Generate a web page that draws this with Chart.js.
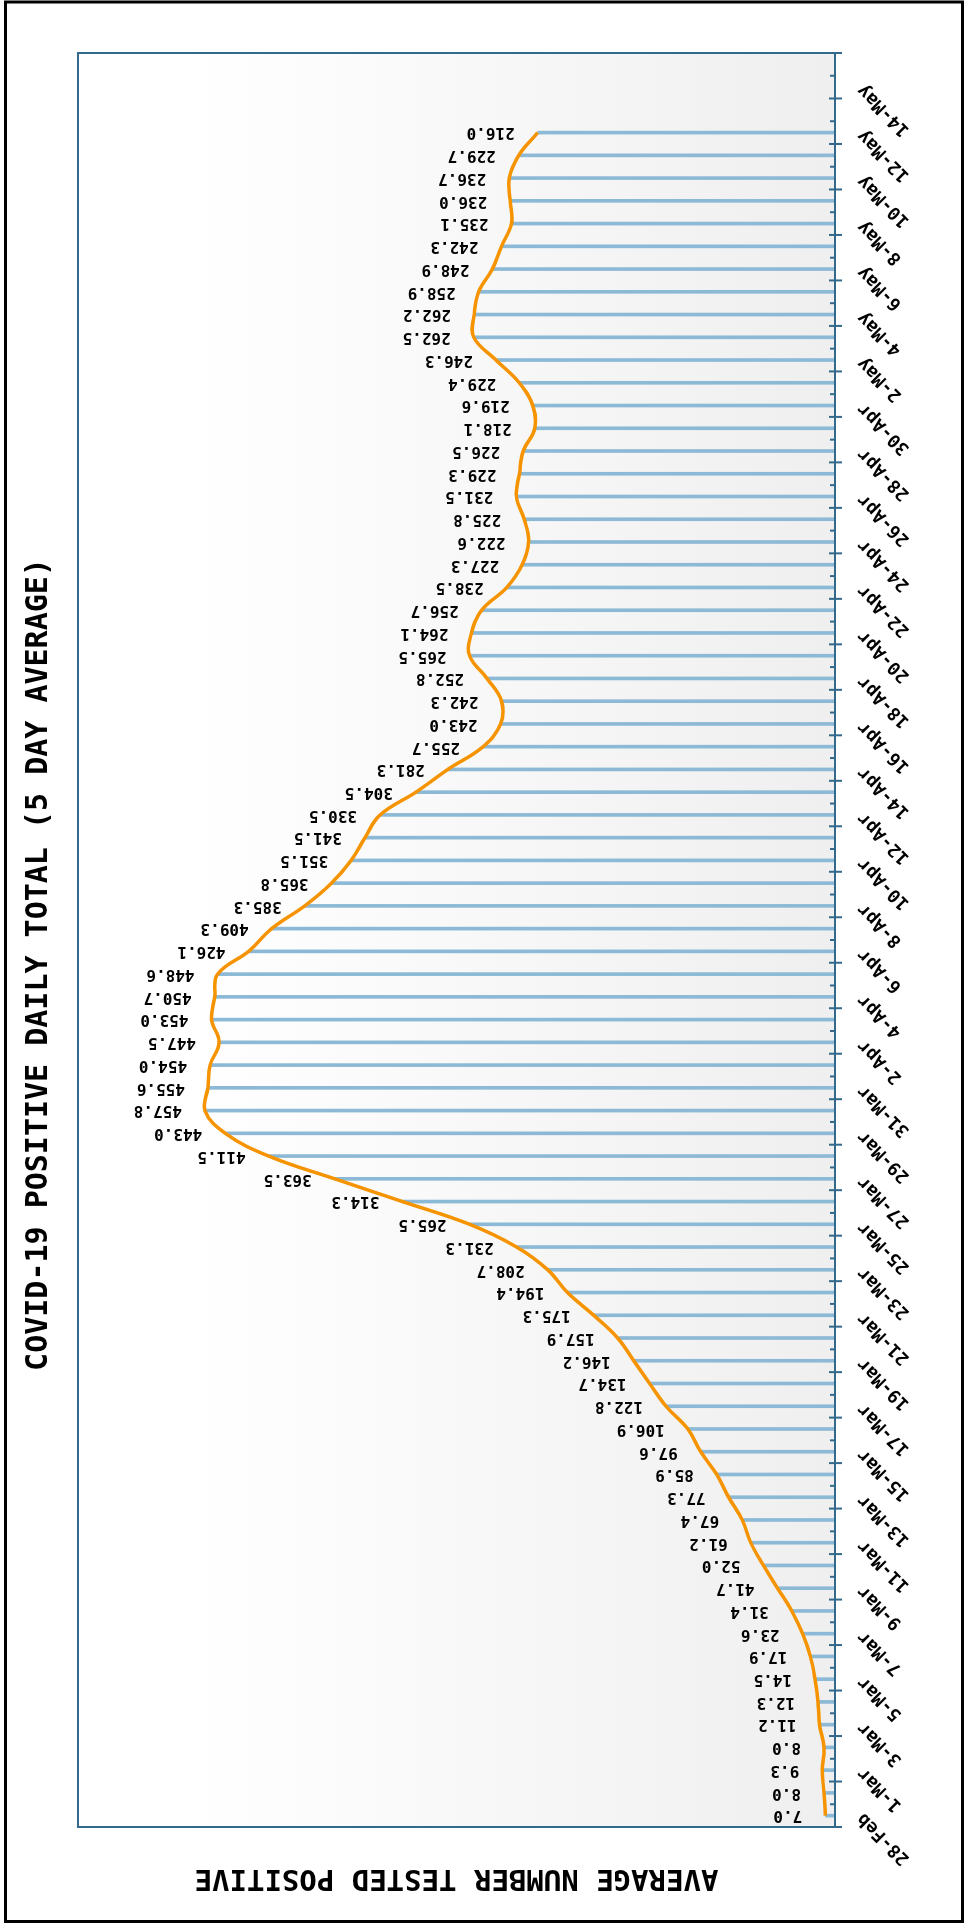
<!DOCTYPE html>
<html>
<head>
<meta charset="utf-8">
<script src="https://cdn.jsdelivr.net/npm/chart.js"></script>
<style>
  html, body { margin: 0; padding: 0; background: #fff; }
  body { width: 964px; height: 1929px; overflow: hidden; position: relative; }
  /* the chart is drawn landscape and turned a quarter turn to the left */
  #wrap { position: absolute; left: 0; top: 0; width: 1929px; height: 964px;
          transform-origin: 0 0; transform: translate(0, 1929px) rotate(-90deg); }
  #covidChart { display: block; }
</style>
</head>
<body>
<div id="wrap"><canvas id="covidChart" width="1929" height="964"></canvas></div>
<script>
var dates = [
  '28-Feb', '29-Feb',
  '1-Mar', '2-Mar', '3-Mar', '4-Mar', '5-Mar', '6-Mar', '7-Mar', '8-Mar', '9-Mar', '10-Mar',
  '11-Mar', '12-Mar', '13-Mar', '14-Mar', '15-Mar', '16-Mar', '17-Mar', '18-Mar', '19-Mar', '20-Mar',
  '21-Mar', '22-Mar', '23-Mar', '24-Mar', '25-Mar', '26-Mar', '27-Mar', '28-Mar', '29-Mar', '30-Mar', '31-Mar',
  '1-Apr', '2-Apr', '3-Apr', '4-Apr', '5-Apr', '6-Apr', '7-Apr', '8-Apr', '9-Apr', '10-Apr',
  '11-Apr', '12-Apr', '13-Apr', '14-Apr', '15-Apr', '16-Apr', '17-Apr', '18-Apr', '19-Apr', '20-Apr',
  '21-Apr', '22-Apr', '23-Apr', '24-Apr', '25-Apr', '26-Apr', '27-Apr', '28-Apr', '29-Apr', '30-Apr',
  '1-May', '2-May', '3-May', '4-May', '5-May', '6-May', '7-May', '8-May', '9-May', '10-May',
  '11-May', '12-May', '13-May', '14-May', '15-May'
];

var avgPositive = [
  7.0, 8.0, 9.3, 8.0, 11.2, 12.3, 14.5, 17.9, 23.6, 31.4,
  41.7, 52.0, 61.2, 67.4, 77.3, 85.9, 97.6, 106.9, 122.8, 134.7,
  146.2, 157.9, 175.3, 194.4, 208.7, 231.3, 265.5, 314.3, 363.5, 411.5,
  443.0, 457.8, 455.6, 454.0, 447.5, 453.0, 450.7, 448.6, 426.1, 409.3,
  385.3, 365.8, 351.5, 341.5, 330.5, 304.5, 281.3, 255.7, 243.0, 242.3,
  252.8, 265.5, 264.1, 256.7, 238.5, 227.3, 222.6, 225.8, 231.5, 229.3,
  226.5, 218.1, 219.6, 229.4, 246.3, 262.5, 262.2, 258.9, 248.9, 242.3,
  235.1, 236.0, 236.7, 229.7, 216.0, null, null, null
];

var chartTitle = 'COVID-19 POSITIVE DAILY TOTAL (5 DAY AVERAGE)';
var yAxisTitle = 'AVERAGE NUMBER TESTED POSITIVE';
var yMax = 550;

var axisColor = '#336a8c';

Chart.defaults.font.family = "'DejaVu Sans Mono', monospace";

// light gradient behind the plot
var plotBackground = {
  id: 'plotBackground',
  beforeDatasetsDraw: function (chart) {
    var a = chart.chartArea, ctx = chart.ctx;
    var g = ctx.createLinearGradient(0, a.top, 0, a.bottom);
    g.addColorStop(0, '#ffffff');
    g.addColorStop(0.15, '#ffffff');
    g.addColorStop(1, '#efefef');
    ctx.save();
    ctx.fillStyle = g;
    ctx.fillRect(a.left, a.top, a.right - a.left, a.bottom - a.top);
    ctx.restore();
  }
};

// value written above each bar, turned upright
var valueLabels = {
  id: 'valueLabels',
  afterDatasetsDraw: function (chart) {
    var ctx = chart.ctx, x = chart.scales.x, y = chart.scales.y;
    ctx.save();
    ctx.fillStyle = '#000';
    ctx.font = 'bold 16px "DejaVu Sans Mono", monospace';
    ctx.textAlign = 'left';
    ctx.textBaseline = 'middle';
    avgPositive.forEach(function (v, i) {
      if (v == null) return;
      ctx.save();
      ctx.translate(x.getPixelForValue(i), y.getPixelForValue(v) - 23);
      ctx.rotate(-Math.PI / 2);
      ctx.fillText(v.toFixed(1), 0, 0);
      ctx.restore();
    });
    ctx.restore();
  }
};

// plot frame, tick marks between days and the outer border
var frame = {
  id: 'frame',
  afterDraw: function (chart) {
    var a = chart.chartArea, ctx = chart.ctx, x = chart.scales.x;
    var n = dates.length;
    var half = (x.getPixelForValue(1) - x.getPixelForValue(0)) / 2;
    ctx.save();
    ctx.strokeStyle = axisColor;
    ctx.lineWidth = 2;
    ctx.strokeRect(a.left, a.top, a.right - a.left, a.bottom - a.top);
    ctx.beginPath();
    for (var i = 0; i <= n; i++) {
      var px = i < n ? x.getPixelForValue(i) - half : x.getPixelForValue(n - 1) + half;
      if (i % 2 === 0) {
        ctx.moveTo(px, a.bottom - 6);
        ctx.lineTo(px, a.bottom + 7);
      } else {
        ctx.moveTo(px, a.bottom - 5);
        ctx.lineTo(px, a.bottom);
      }
    }
    ctx.stroke();
    ctx.strokeStyle = '#000';
    ctx.lineWidth = 3;
    ctx.strokeRect(7.5, 5.5, 1919.5, 957);
    ctx.restore();
  }
};

var covidChart = new Chart(document.getElementById('covidChart'), {
  type: 'bar',
  data: {
    labels: dates,
    datasets: [{
      type: 'line',
      label: '5 day average',
      data: avgPositive,
      borderColor: '#f59300',
      borderWidth: 3.5,
      tension: 0.4,
      pointRadius: 0,
      fill: false,
      order: 0
    }, {
      type: 'bar',
      label: 'Average tested positive',
      data: avgPositive,
      backgroundColor: '#8cb9d5',
      barThickness: 3,
      order: 1
    }]
  },
  options: {
    responsive: false,
    animation: false,
    layout: { padding: 0 },
    plugins: {
      legend: { display: false },
      tooltip: { enabled: false },
      title: {
        display: true,
        text: chartTitle,
        color: '#000',
        font: { size: 30, weight: 'bold' },
        padding: { top: 21, bottom: 21 }
      }
    },
    scales: {
      x: {
        grid: { display: false, drawTicks: false },
        border: { display: false },
        ticks: {
          autoSkip: false,
          minRotation: 45,
          maxRotation: 45,
          padding: 18,
          color: '#000',
          font: { size: 18, weight: 'bold' },
          callback: function (val, i) { return i % 2 === 0 ? dates[i] : ''; }
        },
        afterFit: function (s) { s.height = 129; }
      },
      y: {
        min: 0,
        max: yMax,
        grid: { display: false, drawTicks: false },
        border: { display: false },
        ticks: { display: false },
        title: {
          display: true,
          text: yAxisTitle,
          color: '#000',
          font: { size: 29, weight: 'bold' },
          padding: { top: 34, bottom: 0 }
        },
        afterFit: function (s) { s.width = 102; }
      },
      yRight: {
        position: 'right',
        grid: { display: false, drawTicks: false },
        border: { display: false },
        ticks: { display: false },
        afterFit: function (s) { s.width = 53; }
      }
    }
  },
  plugins: [plotBackground, valueLabels, frame]
});
</script>
</body>
</html>
